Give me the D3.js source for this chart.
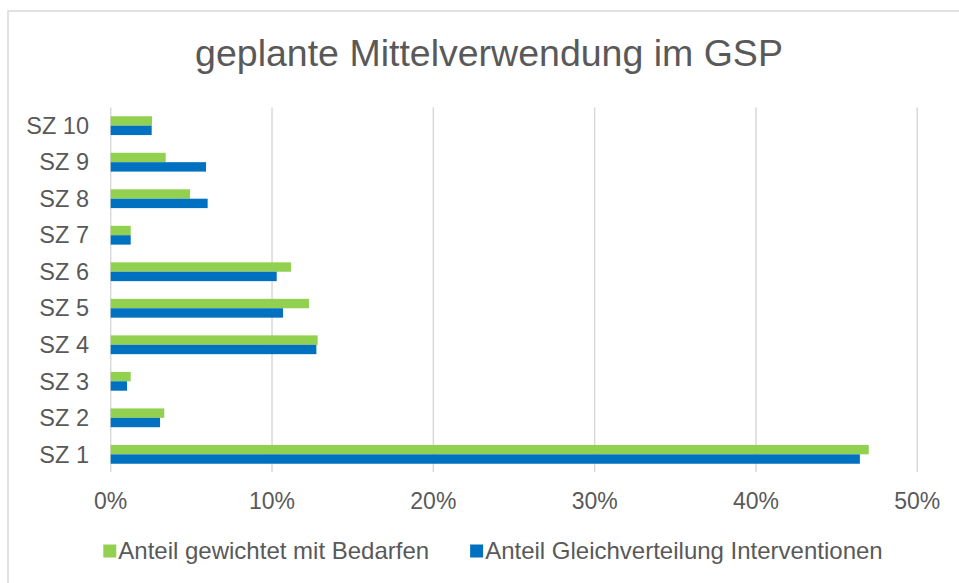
<!DOCTYPE html>
<html>
<head>
<meta charset="utf-8">
<script src="https://cdn.jsdelivr.net/npm/d3@7"></script>
<style>
  body { margin: 0; background: #fff; }
  text { font-family: "Liberation Sans", Arial, sans-serif; fill: #595959; }
</style>
</head>
<body>
<svg id="chart" width="959" height="583"></svg>
<script>
const title = 'geplante Mittelverwendung im GSP';
const categories = ['SZ 1', 'SZ 2', 'SZ 3', 'SZ 4', 'SZ 5', 'SZ 6', 'SZ 7', 'SZ 8', 'SZ 9', 'SZ 10'];
const seriesNames = ['Anteil gewichtet mit Bedarfen', 'Anteil Gleichverteilung Interventionen'];
const bedarfe = [0.4699, 0.0332, 0.0124, 0.1283, 0.1229, 0.1118, 0.0124, 0.0492, 0.0341, 0.0256];
const gleich = [0.4644, 0.0306, 0.0101, 0.1275, 0.1068, 0.1029, 0.0124, 0.0601, 0.0591, 0.0254];
const xTicks = [0, 0.1, 0.2, 0.3, 0.4, 0.5];
const colors = ['#92D050', '#0070C0'];

const svg = d3.select('#chart');

// chart frame (only top & left edges inside the window)
svg.append('rect')
    .attr('x', 8).attr('y', 11)
    .attr('width', 1000).attr('height', 600)
    .attr('fill', 'none')
    .attr('stroke', '#D9D9D9')
    .attr('stroke-width', 1.5);

svg.append('text')
    .attr('x', 489).attr('y', 66)
    .attr('text-anchor', 'middle')
    .style('font-size', '37.5px')
    .text(title);

const x = d3.scaleLinear().domain([0, 0.5]).range([110.7, 917.3]);
const y = d3.scaleBand()
    .domain(categories)
    .range([472.6, 107.4])
    .paddingInner(0.485)
    .paddingOuter(0.2425);
const ySub = d3.scaleBand().domain([0, 1]).range([0, y.bandwidth()]);

// gridlines
svg.append('g')
    .selectAll('line')
    .data(xTicks)
    .join('line')
    .attr('x1', d => x(d)).attr('x2', d => x(d))
    .attr('y1', 107.4).attr('y2', 472)
    .attr('stroke', '#D9D9D9')
    .attr('stroke-width', 1.5);

// x tick labels
svg.append('g')
    .selectAll('text')
    .data(xTicks)
    .join('text')
    .attr('x', d => x(d))
    .attr('y', 509)
    .attr('text-anchor', 'middle')
    .style('font-size', '23px')
    .text(d3.format('.0%'));

// category labels
svg.append('g')
    .selectAll('text')
    .data(categories)
    .join('text')
    .attr('x', 89)
    .attr('y', d => y(d) + y.bandwidth() / 2)
    .attr('dy', '0.35em')
    .attr('text-anchor', 'end')
    .style('font-size', '23.5px')
    .text(d => d);

// bars
const series = [bedarfe, gleich];
series.forEach((vals, s) => {
    svg.append('g')
        .selectAll('rect')
        .data(vals)
        .join('rect')
        .attr('x', x(0))
        .attr('y', (d, i) => y(categories[i]) + ySub(s))
        .attr('width', d => x(d) - x(0))
        .attr('height', ySub.bandwidth())
        .attr('fill', colors[s]);
});

// legend
const legend = svg.append('g');
const items = legend.selectAll('g')
    .data(seriesNames)
    .join('g');
items.append('rect')
    .attr('width', 13).attr('height', 13)
    .attr('y', -6.5)
    .attr('fill', (d, i) => colors[i]);
items.append('text')
    .attr('x', 15)
    .attr('dy', '0.35em')
    .style('font-size', '24px')
    .text(d => d);

let lx = 0;
const gap = 41;
items.each(function () {
    const w = this.getBBox().width;
    d3.select(this).attr('transform', `translate(${lx},551)`);
    lx += w + gap;
});
const total = lx - gap;
legend.attr('transform', `translate(${493 - total / 2},0)`);
</script>
</body>
</html>
